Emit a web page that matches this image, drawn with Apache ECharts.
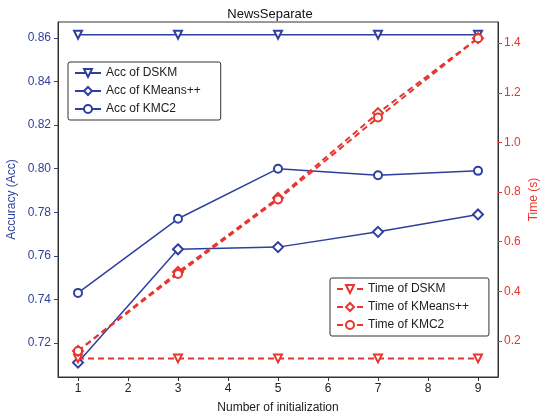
<!DOCTYPE html>
<html>
<head>
<meta charset="utf-8">
<title>NewsSeparate</title>
<script src="https://cdn.jsdelivr.net/npm/echarts@6/dist/echarts.min.js"></script>
<style>
  html, body { margin: 0; padding: 0; background: #fff; }
  #main { width: 540px; height: 417px; }
</style>
</head>
<body>
<div id="main"></div>
<script>
  // number of initializations
  var inits = [1, 3, 5, 7, 9];

  // accuracy (left axis)
  var accDSKM = [0.8615, 0.8615, 0.8615, 0.8615, 0.8615];
  var accKMeans = [0.711, 0.763, 0.764, 0.771, 0.779];
  var accKMC2 = [0.743, 0.777, 0.800, 0.797, 0.799];

  // time in seconds (right axis)
  var timeDSKM = [0.13, 0.13, 0.13, 0.13, 0.13];
  var timeKMeans = [0.16, 0.478, 0.776, 1.118, 1.42];
  var timeKMC2 = [0.16, 0.47, 0.77, 1.10, 1.42];

  var xTicks = [1, 2, 3, 4, 5, 6, 7, 8, 9];
  var accTicks = [0.72, 0.74, 0.76, 0.78, 0.80, 0.82, 0.84, 0.86];
  var timeTicks = [0.2, 0.4, 0.6, 0.8, 1.0, 1.2, 1.4];

  var blue = '#2f3f9e';
  var red = '#e8352f';
  var font = 'Liberation Sans, Arial, sans-serif';

  // marker shapes and sizes shared by both groups
  var marks = {
    dskm: { symbol: 'emptyTriangle', size: 8, rotate: 180 },
    kmeans: { symbol: 'emptyDiamond', size: 10, rotate: 0 },
    kmc2: { symbol: 'emptyCircle', size: 8, rotate: 0 }
  };

  function pairs(ys) {
    return inits.map(function (x, i) { return [x, ys[i]]; });
  }

  function accSeries(name, ys, m) {
    return {
      name: name, type: 'line', yAxisIndex: 0,
      data: pairs(ys),
      symbol: m.symbol, symbolSize: m.size, symbolRotate: m.rotate,
      lineStyle: { color: blue, width: 1.5 },
      itemStyle: { color: blue, borderWidth: 1 },
      animation: false
    };
  }

  function timeSeries(name, ys, m) {
    return {
      name: name, type: 'line', yAxisIndex: 1,
      data: pairs(ys),
      symbol: m.symbol, symbolSize: m.size, symbolRotate: m.rotate,
      lineStyle: { color: red, width: 2, type: [6, 4] },
      itemStyle: { color: red, borderWidth: 1 },
      animation: false
    };
  }

  var chart = echarts.init(document.getElementById('main'));

  var legendBase = {
    orient: 'vertical',
    backgroundColor: '#fff',
    borderColor: '#333',
    borderWidth: 1,
    borderRadius: 2,
    padding: [5, 20, 5, 6],
    itemGap: 6,
    itemWidth: 26,
    itemHeight: 10,
    textStyle: { fontFamily: font, fontSize: 12, color: '#222' }
  };

  var option = {
    backgroundColor: '#fff',
    title: {
      text: 'NewsSeparate',
      left: 'center', top: 3,
      textStyle: { fontFamily: font, fontSize: 13, fontWeight: 'normal', color: '#111' }
    },
    grid: {
      left: 58, right: 42, top: 22, bottom: 40,
      outerBoundsMode: 'none',
      containLabel: false,
      show: true, borderColor: '#333', borderWidth: 1
    },
    legend: [
      Object.assign({}, legendBase, {
        left: 68, top: 62,
        data: ['Acc of DSKM', 'Acc of KMeans++', 'Acc of KMC2']
      }),
      Object.assign({}, legendBase, {
        left: 330, top: 278,
        data: ['Time of DSKM', 'Time of KMeans++', 'Time of KMC2']
      })
    ],
    xAxis: {
      type: 'value', min: 0.6, max: 9.4,
      name: 'Number of initialization',
      nameLocation: 'middle', nameGap: 25, nameMoveOverlap: false,
      nameTextStyle: { fontFamily: font, fontSize: 12, color: '#222' },
      axisLine: { lineStyle: { color: '#333' } },
      axisTick: { customValues: xTicks, length: 4, lineStyle: { color: '#333' } },
      axisLabel: { customValues: xTicks, fontFamily: font, fontSize: 12, color: '#222', margin: 6 },
      splitLine: { show: false }
    },
    yAxis: [
      {
        type: 'value', min: 0.7044, max: 0.8673, position: 'left',
        name: 'Accuracy (Acc)',
        nameLocation: 'middle', nameGap: 40, nameMoveOverlap: false,
        nameTextStyle: { fontFamily: font, fontSize: 12, color: blue },
        axisLine: { show: true, lineStyle: { color: '#333' } },
        axisTick: { show: true, customValues: accTicks, length: 4, lineStyle: { color: blue } },
        axisLabel: {
          customValues: accTicks, fontFamily: font, fontSize: 12, color: blue, margin: 7,
          formatter: function (v) { return v.toFixed(2); }
        },
        splitLine: { show: false }
      },
      {
        type: 'value', min: 0.055, max: 1.485, position: 'right',
        name: 'Time (s)',
        nameLocation: 'middle', nameGap: 30, nameRotate: 90, nameMoveOverlap: false,
        nameTextStyle: { fontFamily: font, fontSize: 12, color: red },
        axisLine: { show: true, lineStyle: { color: '#333' } },
        axisTick: { show: true, customValues: timeTicks, length: 4, lineStyle: { color: red } },
        axisLabel: {
          customValues: timeTicks, fontFamily: font, fontSize: 12, color: red, margin: 6,
          formatter: function (v) { return v.toFixed(1); }
        },
        splitLine: { show: false }
      }
    ],
    series: [
      accSeries('Acc of DSKM', accDSKM, marks.dskm),
      accSeries('Acc of KMeans++', accKMeans, marks.kmeans),
      accSeries('Acc of KMC2', accKMC2, marks.kmc2),
      timeSeries('Time of DSKM', timeDSKM, marks.dskm),
      timeSeries('Time of KMeans++', timeKMeans, marks.kmeans),
      timeSeries('Time of KMC2', timeKMC2, marks.kmc2)
    ]
  };

  chart.setOption(option);
</script>
</body>
</html>
